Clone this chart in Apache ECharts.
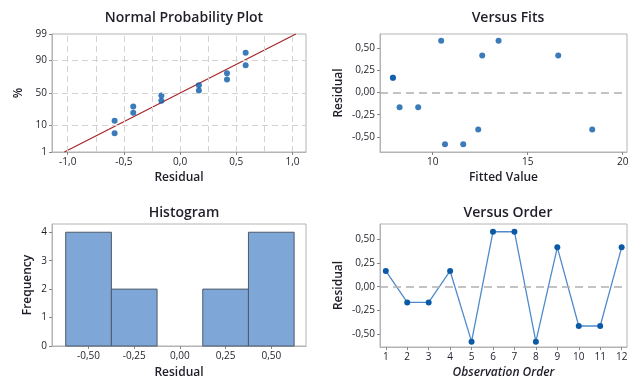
<!DOCTYPE html>
<html>
<head>
<meta charset="utf-8">
<script src="https://cdn.jsdelivr.net/npm/echarts@6/dist/echarts.min.js"></script>
<style>
  html, body { margin: 0; padding: 0; background: #fff; }
  #chart { width: 632px; height: 380px; }
</style>
</head>
<body>
<div id="chart"></div>
<script>
// residuals in observation order
const obsOrder = [1, 2, 3, 4, 5, 6, 7, 8, 9, 10, 11, 12]
const residuals = [0.167, -0.167, -0.167, 0.167, -0.583, 0.583, 0.583, -0.583, 0.417, -0.417, -0.417, 0.417]
const fittedValues = [7.91, 8.26, 9.24, 7.91, 10.65, 10.45, 13.47, 11.61, 12.61, 12.4, 18.4, 16.61]

// normal probability plot (sorted residual vs percent)
const probResidual = [-0.583, -0.583, -0.417, -0.417, -0.167, -0.167, 0.167, 0.167, 0.417, 0.417, 0.583, 0.583]
const probPercent = [5.6, 13.7, 21.8, 29.8, 37.9, 46.0, 54.0, 62.1, 70.2, 78.2, 86.3, 94.4]
const fitLineX = [-1.03, 1.03]
const fitLinePct = [1, 99]
const probPctTicks = [1, 10, 50, 90, 99]
const probXTicks = [-1, -0.5, 0, 0.5, 1]
const probXGrid = [-1, -0.75, -0.5, -0.25, 0, 0.25, 0.5, 0.75, 1]

// histogram
const binEdges = [-0.625, -0.375, -0.125, 0.125, 0.375, 0.625]
const binCounts = [4, 2, 0, 2, 4]
const histXTicks = [-0.5, -0.25, 0, 0.25, 0.5]
const freqTicks = [0, 1, 2, 3, 4]
const freqTicksEven = [0, 2, 4]
const freqTicksOdd = [1, 3]

const residTicks = [-0.5, -0.25, 0, 0.25, 0.5]
const fitTicks = [10, 15, 20]

// inverse normal cdf (probability scale of the y axis)
function normInv (p) {
  const a = [-39.69683028665376, 220.9460984245205, -275.9285104469687, 138.357751867269, -30.66479806614716, 2.506628277459239]
  const b = [-54.47609879822406, 161.5858368580409, -155.6989798598866, 66.80131188771972, -13.28068155288572]
  const c = [-0.007784894002430293, -0.3223964580411365, -2.400758277161838, -2.549732539343734, 4.374664141464968, 2.938163982698783]
  const d = [0.007784695709041462, 0.3224671290700398, 2.445134137142996, 3.754408661907416]
  const pl = 0.02425
  let q, r
  if (p < pl) {
    q = Math.sqrt(-2 * Math.log(p))
    return (((((c[0] * q + c[1]) * q + c[2]) * q + c[3]) * q + c[4]) * q + c[5]) / ((((d[0] * q + d[1]) * q + d[2]) * q + d[3]) * q + 1)
  }
  if (p > 1 - pl) {
    q = Math.sqrt(-2 * Math.log(1 - p))
    return -(((((c[0] * q + c[1]) * q + c[2]) * q + c[3]) * q + c[4]) * q + c[5]) / ((((d[0] * q + d[1]) * q + d[2]) * q + d[3]) * q + 1)
  }
  q = p - 0.5
  r = q * q
  return (((((a[0] * r + a[1]) * r + a[2]) * r + a[3]) * r + a[4]) * r + a[5]) * q / (((((b[0] * r + b[1]) * r + b[2]) * r + b[3]) * r + b[4]) * r + 1)
}
const z = pct => normInv(pct / 100)

const FONT = '"Open Sans", "Noto Sans", sans-serif'
const TEXT = '#1e1e28'
const FRAME = '#b4b4b4'
const DOT = '#0b5aa8'

const comma = d => v => v.toFixed(d).replace('.', ',')

function xAxisOf (idx, min, max, ticks, fmt, name, gap, italic) {
  return {
    type: 'value', gridIndex: idx, min: min, max: max,
    name: name, nameLocation: 'middle', nameGap: gap,
    nameTextStyle: { fontFamily: FONT, fontSize: 12, fontWeight: 600, color: TEXT, fontStyle: italic ? 'italic' : 'normal' },
    axisLine: { show: true, onZero: false, lineStyle: { color: FRAME } },
    axisTick: { show: true, length: 3, lineStyle: { color: '#888' }, customValues: ticks },
    axisLabel: { fontFamily: FONT, fontSize: 10, color: TEXT, margin: 5, hideOverlap: false, customValues: ticks, formatter: fmt },
    splitLine: { show: false }
  }
}
function yAxisOf (idx, min, max, ticks, fmt, name, gap, labelTicks) {
  return {
    type: 'value', gridIndex: idx, min: min, max: max,
    name: name, nameLocation: 'middle', nameGap: gap,
    nameTextStyle: { fontFamily: FONT, fontSize: 12, fontWeight: 600, color: TEXT },
    axisLine: { show: true, onZero: false, lineStyle: { color: FRAME } },
    axisTick: { show: true, length: 3, lineStyle: { color: '#888' }, customValues: ticks },
    axisLabel: { fontFamily: FONT, fontSize: 10, color: TEXT, margin: 5, hideOverlap: false, customValues: labelTicks || ticks, formatter: fmt },
    splitLine: { show: false }
  }
}

const gridStyle = { show: true, borderColor: FRAME, borderWidth: 1, containLabel: false }
const zeroLine = {
  silent: true, symbol: 'none', label: { show: false },
  lineStyle: { color: '#b0b0b0', type: [8, 5], width: 1.5 },
  data: [{ yAxis: 0 }]
}
const dashGrid = { color: '#d2d2d2', type: [6, 4], width: 1 }

const probYTicks = probPctTicks.map(z)
const pctLabel = {}
probPctTicks.forEach((p, i) => { pctLabel[probYTicks[i].toFixed(4)] = String(p) })

const chart = echarts.init(document.getElementById('chart'), null, { renderer: 'canvas' })
const option = {
  backgroundColor: '#fff',
  animation: false,
  title: [
    { text: 'Normal Probability Plot', left: 179, top: 6, textAlign: 'center' },
    { text: 'Versus Fits', left: 503, top: 6, textAlign: 'center' },
    { text: 'Histogram', left: 179, top: 201, textAlign: 'center' },
    { text: 'Versus Order', left: 503, top: 201, textAlign: 'center' }
  ].map(t => Object.assign(t, { textStyle: { fontFamily: FONT, fontSize: 14, fontWeight: 600, color: TEXT } })),
  grid: [
    Object.assign({ left: 52, top: 34, width: 254, height: 118 }, gridStyle),
    Object.assign({ left: 380, top: 34, width: 247, height: 118 }, gridStyle),
    Object.assign({ left: 52, top: 224, width: 254, height: 123 }, gridStyle),
    Object.assign({ left: 380, top: 224, width: 247, height: 124 }, gridStyle)
  ],
  xAxis: [
    xAxisOf(0, -1.14, 1.12, probXTicks, comma(1), 'Residual', 20),
    xAxisOf(1, 7.23, 20.23, fitTicks, v => String(v), 'Fitted Value', 20),
    xAxisOf(2, -0.70, 0.69, histXTicks, comma(2), 'Residual', 21),
    xAxisOf(3, 0.73, 12.25, obsOrder, v => String(v), 'Observation Order', 20, true)
  ],
  yAxis: [
    yAxisOf(0, z(1), z(99), probYTicks, v => pctLabel[v.toFixed(4)] || '', '%', 27),
    yAxisOf(1, -0.67, 0.66, residTicks, comma(2), 'Residual', 35),
    yAxisOf(2, 0, 4.29, freqTicks, v => String(v), 'Frequency', 18, freqTicksEven),
    yAxisOf(3, -0.64, 0.665, residTicks, comma(2), 'Residual', 35)
  ],
  series: [
    {
      type: 'line', xAxisIndex: 0, yAxisIndex: 0, silent: true,
      data: fitLineX.map((x, i) => [x, z(fitLinePct[i])]),
      symbol: 'none',
      lineStyle: { color: '#a3262a', width: 1.2 },
      markLine: {
        silent: true, symbol: 'none', label: { show: false }, lineStyle: dashGrid,
        data: probXGrid.map(v => ({ xAxis: v })).concat(probYTicks.slice(1, -1).map(v => ({ yAxis: v })))
      },
      z: 3
    },
    {
      type: 'scatter', xAxisIndex: 0, yAxisIndex: 0,
      data: probResidual.map((x, i) => [x, z(probPercent[i])]),
      symbol: 'circle', symbolSize: 6, itemStyle: { color: DOT }, z: 4
    },
    {
      type: 'scatter', xAxisIndex: 1, yAxisIndex: 1,
      data: fittedValues.map((x, i) => [x, residuals[i]]),
      symbol: 'circle', symbolSize: 6, itemStyle: { color: DOT },
      markLine: zeroLine
    },
    {
      type: 'custom', xAxisIndex: 2, yAxisIndex: 2,
      data: binCounts.map((c, i) => [binEdges[i], binEdges[i + 1], c]),
      renderItem: function (params, api) {
        const c = api.value(2)
        if (!c) return null
        const p0 = api.coord([api.value(0), c])
        const p1 = api.coord([api.value(1), 0])
        return {
          type: 'rect',
          shape: { x: p0[0], y: p0[1], width: p1[0] - p0[0], height: p1[1] - p0[1] },
          style: { fill: '#7ea7d8', stroke: '#4e5a68', lineWidth: 1 }
        }
      }
    },
    {
      type: 'line', xAxisIndex: 3, yAxisIndex: 3,
      data: obsOrder.map((x, i) => [x, residuals[i]]),
      symbol: 'circle', symbolSize: 6, showSymbol: true,
      lineStyle: { color: '#4f8bcc', width: 1.3 },
      itemStyle: { color: DOT },
      markLine: zeroLine
    }
  ]
}
chart.setOption(option)

// odd frequency labels: the axis drops them, so place them at their ticks
function freqY (v) {
  const p = chart.convertToPixel({ gridIndex: 2 }, [0, v])
  if (p && isFinite(p[1])) return p[1]
  return 224 + 123 * (1 - v / 4.29)
}
chart.setOption({
  graphic: freqTicksOdd.map(v => ({
    type: 'text', silent: true, z: 100,
    x: 47, y: freqY(v),
    style: { text: String(v), align: 'right', verticalAlign: 'middle', fontFamily: 'Open Sans', fontSize: 10, fill: TEXT }
  }))
})
</script>
</body>
</html>
